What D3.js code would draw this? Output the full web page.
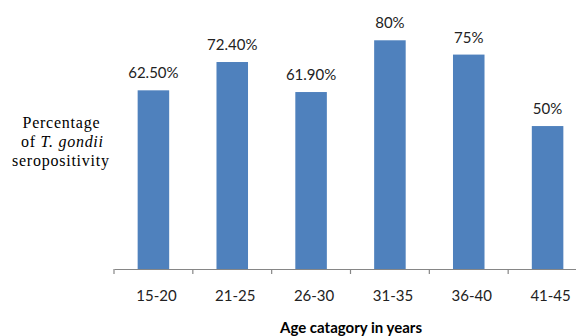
<!DOCTYPE html>
<html>
<head>
<meta charset="utf-8">
<script src="https://cdn.jsdelivr.net/npm/d3@7"></script>
<style>
  html, body { margin: 0; padding: 0; background: #fff; }
  svg { display: block; }
</style>
</head>
<body>
<svg id="chart" width="576" height="336"></svg>
<script>
// Seropositivity by age group
const categories = ["15-20", "21-25", "26-30", "31-35", "36-40", "41-45"];
const values = [0.625, 0.724, 0.619, 0.80, 0.75, 0.50];
const valueLabels = ["62.50%", "72.40%", "61.90%", "80%", "75%", "50%"];

const sansFont = "Lato, 'Open Sans', sans-serif";
const serifFont = "'Liberation Serif', 'Times New Roman', serif";

const svg = d3.select("#chart");

const x = d3.scaleBand()
  .domain(categories)
  .range([114, 587])
  .paddingInner(0.6)
  .paddingOuter(0.3);

const y = d3.scaleLinear()
  .domain([0, 0.9])
  .range([269, 11.7]);

// bars
svg.append("g").selectAll("rect")
  .data(values)
  .join("rect")
  .attr("x", (d, i) => x(categories[i]))
  .attr("y", d => y(d))
  .attr("width", x.bandwidth())
  .attr("height", d => y(0) - y(d))
  .attr("fill", "#4F81BD");

// value labels
svg.append("g").selectAll("text")
  .data(values)
  .join("text")
  .attr("x", (d, i) => x(categories[i]) + x.bandwidth() / 2)
  .attr("y", d => y(d) - 12)
  .attr("text-anchor", "middle")
  .style("font-family", sansFont)
  .style("font-size", "15px")
  .attr("fill", "#222")
  .text((d, i) => valueLabels[i]);

// category axis
const xAxis = svg.append("g")
  .attr("transform", `translate(0,${y(0)})`)
  .call(d3.axisBottom(x).tickSize(0).tickPadding(0));
xAxis.select(".domain").attr("stroke", "#868686").attr("stroke-width", 1.2);
xAxis.selectAll(".tick text")
  .attr("dy", 0)
  .attr("y", 32)
  .attr("dx", 3)
  .style("font-family", sansFont)
  .style("font-size", "15px")
  .attr("fill", "#222");

// tick marks between categories
const offset = (x.step() - x.bandwidth()) / 2;
const boundaries = categories.map(c => x(c) - offset)
  .concat([x(categories[categories.length - 1]) + x.bandwidth() + offset]);
xAxis.selectAll("line.sep")
  .data(boundaries)
  .join("line")
  .attr("class", "sep")
  .attr("x1", d => d).attr("x2", d => d)
  .attr("y1", 0).attr("y2", 5)
  .attr("stroke", "#868686")
  .attr("stroke-width", 1.2);

// x axis title
svg.append("text")
  .attr("x", 351)
  .attr("y", 333)
  .attr("text-anchor", "middle")
  .style("font-family", sansFont)
  .style("font-weight", "bold")
  .style("font-size", "15px")
  .attr("fill", "#000")
  .text("Age catagory in years");

// y axis title (three lines, serif)
const yTitle = svg.append("g")
  .attr("fill", "#000")
  .attr("text-anchor", "middle");

function serifLine(xPos, yPos, len) {
  return yTitle.append("text")
    .attr("x", xPos).attr("y", yPos)
    .attr("textLength", len).attr("lengthAdjust", "spacing")
    .style("font-family", serifFont)
    .style("font-size", "16px");
}

serifLine(61, 128, 77).text("Percentage");
const l2 = serifLine(62, 147, 82);
l2.append("tspan").text("of ");
l2.append("tspan").style("font-style", "italic").text("T. gondii");
serifLine(60.5, 166, 97).text("seropositivity");
</script>
</body>
</html>
